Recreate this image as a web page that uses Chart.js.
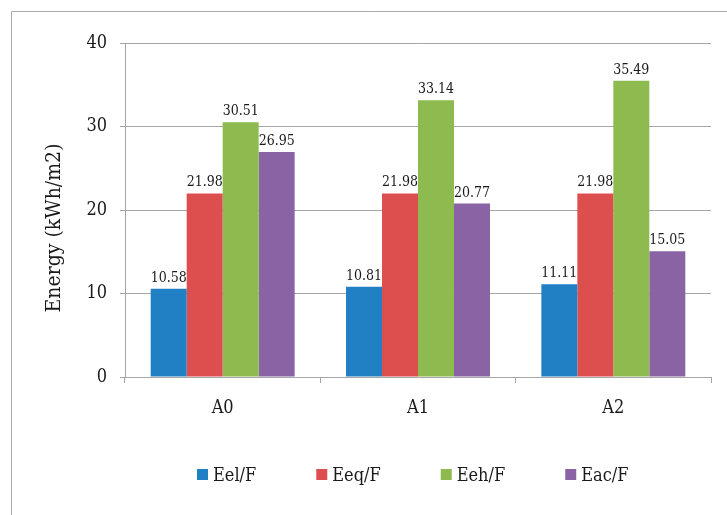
<!DOCTYPE html>
<html>
<head>
<meta charset="utf-8">
<script src="https://cdn.jsdelivr.net/npm/chart.js@4.4.1/dist/chart.umd.min.js"></script>
<style>
  html, body { margin: 0; padding: 0; background: #ffffff; }
  #wrap { width: 727px; height: 515px; position: relative; }
</style>
</head>
<body>
<div id="wrap"><canvas id="chart" width="727" height="515"></canvas></div>
<script>
// Energy use per scenario, kWh/m2
const categories = ['A0', 'A1', 'A2'];
const seriesNames = ['Eel/F', 'Eeq/F', 'Eeh/F', 'Eac/F'];
const eel = [10.58, 10.81, 11.11];
const eeq = [21.98, 21.98, 21.98];
const eeh = [30.51, 33.14, 35.49];
const eac = [26.95, 20.77, 15.05];
const yTicks = [0, 10, 20, 30, 40];
const yTitle = 'Energy (kWh/m2)';

const colors = ['#2180c3', '#dd4f4e', '#8dbb4f', '#8a63a5'];
const FONT = "'DejaVu Serif Condensed', 'DejaVu Serif', serif";
const INK = '#1a1a1a';
const LINE = '#a6a6a6';

// Value labels above each bar
const valueLabels = {
  id: 'valueLabels',
  afterDatasetsDraw(chart) {
    const ctx = chart.ctx;
    ctx.save();
    ctx.font = '14px ' + FONT;
    ctx.fillStyle = INK;
    ctx.textAlign = 'center';
    ctx.textBaseline = 'alphabetic';
    chart.data.datasets.forEach((ds, i) => {
      const meta = chart.getDatasetMeta(i);
      meta.data.forEach((bar, j) => {
        ctx.fillText(ds.data[j].toFixed(2), bar.x, bar.y - 7);
      });
    });
    ctx.restore();
  }
};

// Frame, axis title and a single-row legend below the plot
const frameAndLegend = {
  id: 'frameAndLegend',
  afterDraw(chart) {
    const ctx = chart.ctx;
    ctx.save();
    ctx.strokeStyle = '#ababab';
    ctx.lineWidth = 1;
    ctx.beginPath();
    ctx.moveTo(11.5, chart.height);
    ctx.lineTo(11.5, 11.5);
    ctx.lineTo(chart.width, 11.5);
    ctx.stroke();

    // vertical axis title
    ctx.save();
    ctx.translate(55, 228);
    ctx.rotate(-Math.PI / 2);
    ctx.font = '21px ' + FONT;
    ctx.fillStyle = INK;
    ctx.textAlign = 'center';
    ctx.textBaseline = 'middle';
    ctx.fillText(yTitle, 0, 0);
    ctx.restore();

    ctx.font = '18px ' + FONT;
    ctx.textBaseline = 'middle';
    ctx.textAlign = 'left';
    const box = 11, gapText = 5, gapItem = 60;
    let x = 197;
    const y = 475;
    chart.data.datasets.forEach(ds => {
      ctx.fillStyle = ds.backgroundColor;
      ctx.fillRect(x, y - 6, box, box);
      ctx.fillStyle = INK;
      ctx.fillText(ds.label, x + box + gapText, y + 1);
      x += box + gapText + ctx.measureText(ds.label).width + gapItem;
    });
    ctx.restore();
  }
};

const values = [eel, eeq, eeh, eac];

new Chart(document.getElementById('chart'), {
  type: 'bar',
  data: {
    labels: categories,
    datasets: seriesNames.map((name, i) => ({
      label: name,
      data: values[i],
      backgroundColor: colors[i],
      borderWidth: 0,
      categoryPercentage: 0.737,
      barPercentage: 1.0
    }))
  },
  options: {
    responsive: false,
    animation: false,
    devicePixelRatio: 1,
    layout: { padding: { left: 12, top: 43, right: 16, bottom: 58 } },
    plugins: {
      legend: { display: false },
      tooltip: { enabled: false }
    },
    scales: {
      x: {
        afterFit(scale) { scale.height = 80; },
        grid: {
          display: true, drawOnChartArea: false, drawTicks: true,
          tickLength: 6, color: LINE, offset: true
        },
        border: { display: true, color: LINE },
        ticks: { color: INK, font: { family: FONT, size: 18 }, padding: 15 }
      },
      y: {
        min: 0, max: 40,
        afterFit(scale) { scale.width = 113; },
        afterBuildTicks(scale) { scale.ticks = yTicks.map(v => ({ value: v })); },
        grid: { color: LINE, tickLength: 5, drawTicks: true },
        border: { display: true, color: LINE },
        ticks: { color: INK, font: { family: FONT, size: 18 }, padding: 13 }
      }
    }
  },
  plugins: [valueLabels, frameAndLegend]
});
</script>
</body>
</html>
